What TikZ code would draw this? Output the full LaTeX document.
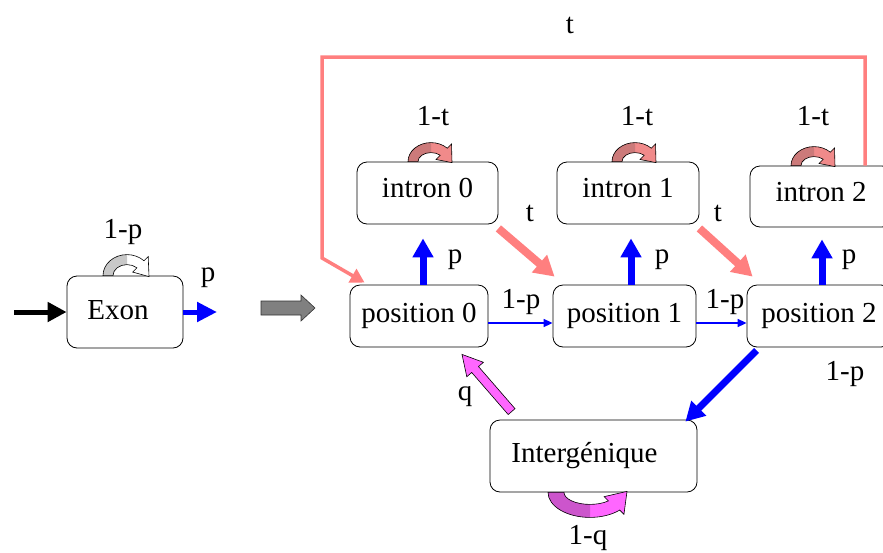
\documentclass[tikz,border=0pt]{standalone}
\usepackage{fontspec}
\setmainfont{Liberation Serif}
\usetikzlibrary{arrows.meta,calc}
\definecolor{pinkline}{HTML}{FF7F7F}
\definecolor{bblue}{HTML}{0000FF}
\definecolor{magA}{HTML}{FF66FF}
\definecolor{magB}{HTML}{CC55CC}
\definecolor{roseA}{HTML}{F08A8A}
\definecolor{roseB}{HTML}{CC7A7A}
\definecolor{grayA}{HTML}{808080}
\definecolor{grayL}{HTML}{C8C8C8}

\newcommand\loopshape[6]{%
  \pgfmathsetmacro\lea{315}%
  \pgfmathsetmacro\lox{cos(\lea)*(#1+6)}%
  \pgfmathsetmacro\loy{sin(\lea)*(#2+6)}%
  \pgfmathsetmacro\lix{cos(\lea)*(#3-6)}%
  \pgfmathsetmacro\liy{sin(\lea)*(#4-6)}%
  \pgfmathsetmacro\ljx{cos(\lea)*#3}%
  \pgfmathsetmacro\ljy{sin(\lea)*#4}%
  \pgfmathsetmacro\ltx{(#1+#3)/2+3}%
  \def\lpth{(-#1,0) arc[start angle=180,end angle=\lea,x radius=#1,y radius=#2] -- (\lox,\loy) -- (\ltx,1) -- (\lix,\liy) -- (\ljx,\ljy) arc[start angle=\lea,end angle=180,x radius=#3,y radius=#4] -- cycle}%
  \fill[#6] \lpth;
  \begin{scope}\clip (-100,-100) rectangle (0,100); \fill[#5] \lpth; \end{scope}
  \draw[line width=0.6pt] \lpth;
}

\begin{document}
\begin{tikzpicture}[x=1pt,y=-1pt,
  font=\fontsize{29pt}{32pt}\selectfont,
  box/.style={draw, rounded corners=10pt, line width=0.8pt, fill=white, inner sep=0pt},
  lbl/.style={inner sep=0pt},
  bluethick/.style={draw=bblue, line width=7pt, -{Triangle[length=19pt,width=20pt]}},
  bluethin/.style={draw=bblue, line width=1.6pt, -{Triangle[length=9pt,width=8pt]}},
  pinkthick/.style={draw=pinkline, line width=8pt, -{Triangle[length=20pt,width=22pt]}},
  blackarr/.style={draw=black, line width=5pt, -{Triangle[length=19pt,width=19pt]}}]
\useasboundingbox (0,0) rectangle (883,552);
\clip (0,0) rectangle (883,552);

% boxes
\node[box, minimum width=116pt, minimum height=72pt, text depth=5pt] (exon) at (125,312) {Exon\hspace*{14pt}};
\node[box, minimum width=138pt, minimum height=62pt] (p0) at (419,316) {position 0};
\node[box, minimum width=143pt, minimum height=62pt] (p1) at (624.5,316) {position 1};
\node[box, minimum width=144pt, minimum height=62pt] (p2) at (819,316) {position 2};
\node[box, minimum width=141pt, minimum height=62pt, text depth=10pt] (i0) at (427.5,193) {intron 0};
\node[box, minimum width=142pt, minimum height=62pt, text depth=10pt] (i1) at (628,193) {intron 1};
\node[box, minimum width=142pt, minimum height=61pt, text depth=10pt] (i2) at (821,196.5) {intron 2};
\node[box, minimum width=207pt, minimum height=72pt] (ig) at (593.5,456) {Intergénique\hspace*{18pt}};

% coordinates for free ends
\coordinate (inA) at (14,312);
\coordinate (outE) at (217,312);
\coordinate (tA) at (865,57);
\coordinate (tB) at (322,57);
\coordinate (tC) at (322,258);
\coordinate (gT) at (261,308);
\coordinate (gH) at (315,308);

% exon arrows
\draw[blackarr] (inA) -- (exon.west);
\draw[draw=bblue, line width=5pt, -{Triangle[length=20pt,width=19pt]}] (exon.east) -- (outE);

% gray block arrow
\filldraw[fill=grayA, draw=black!80, line width=0.6pt]
  ($(gT)+(0,-7)$) -- ($(gH)+(-14,-7)$) -- ($(gH)+(-14,-13)$) -- (gH) -- ($(gH)+(-14,13)$) -- ($(gH)+(-14,7)$) -- ($(gT)+(0,7)$) -- cycle;

% big pink return line
\draw[draw=pinkline, line width=3.5pt, line join=miter, -{Triangle[length=14pt,width=15pt]}]
  (i2.north -| tA) -- (tA) -- (tB) -- (tC) -- ([xshift=15pt,yshift=2pt]p0.north west);

% blue up arrows
\draw[bluethick, shorten >=14pt] ([xshift=4pt]p0.north) -- ([xshift=4pt]p0.north |- i0.south);
\draw[bluethick, shorten >=14pt] ([xshift=6.5pt]p1.north) -- ([xshift=6.5pt]p1.north |- i1.south);
\draw[bluethick, shorten >=12pt] ([xshift=3pt]p2.north) -- ([xshift=3pt]p2.north |- i2.south);

% thin blue arrows
\draw[bluethin] ([yshift=-7pt]p0.east) -- ([yshift=-7pt]p1.west);
\draw[bluethin] ([yshift=-7pt]p1.east) -- ([yshift=-7pt]p2.west);

% pink t arrows
\draw[pinkthick] ([yshift=-4pt]i0.south east) -- ([xshift=2pt,yshift=8pt]p1.north west);
\draw[pinkthick] ([yshift=-4pt]i1.south east) -- ([xshift=6pt,yshift=8pt]p2.north west);

% blue diagonal to intergenique
\draw[bluethick] ([xshift=10pt,yshift=-3pt]p2.south west) -- ([xshift=-12pt,yshift=-2pt]ig.north east);

% magenta block arrow
\coordinate (mT) at ([xshift=22pt,yshift=8pt]ig.north west);
\coordinate (mH) at ([xshift=43pt,yshift=-7pt]p0.south);
\coordinate (mB) at ($(mH)!20pt!(mT)$);
\filldraw[fill=magA, draw=black, line width=0.6pt]
  ($(mT)!4.5pt!90:(mH)$) -- ($(mB)!4.5pt!90:(mH)$) -- ($(mB)!11pt!90:(mH)$) -- (mH)
  -- ($(mB)!11pt!-90:(mH)$) -- ($(mB)!4.5pt!-90:(mH)$) -- ($(mT)!4.5pt!-90:(mH)$) -- cycle;

% self loops
\begin{scope}[shift={($(exon.north)+(2,0)$)}]\loopshape{24}{21}{14}{11}{grayL}{white}\end{scope}
\begin{scope}[shift={($(i0.north)+(3.5,0)$)}]\loopshape{23}{19}{13}{9}{roseB}{roseA}\end{scope}
\begin{scope}[shift={($(i1.north)+(7,0)$)}]\loopshape{23}{19}{13}{9}{roseB}{roseA}\end{scope}
\begin{scope}[shift={($(i2.north)+(-7,0)$)}]\loopshape{23}{19}{13}{9}{roseB}{roseA}\end{scope}
\begin{scope}[shift={($(ig.south)+(-3.5,0)$)}, yscale=-1]\loopshape{42}{25}{26}{12}{magB}{magA}\end{scope}

% labels
\node[lbl] (lex) at (123,232) {1-p};
\node[lbl] (lexp) at (208,278) {p};
\node[lbl] (ltop) at (570,25) {t};
\node[lbl] (lt0) at (433,116) {1-t};
\node[lbl] (lt1) at (637,116) {1-t};
\node[lbl] (lt2) at (813,116) {1-t};
\node[lbl] (ltt0) at (530,213) {t};
\node[lbl] (ltt1) at (718,213) {t};
\node[lbl] (lp0) at (455,260) {p};
\node[lbl] (lp1) at (662,260) {p};
\node[lbl] (lp2) at (849,260) {p};
\node[lbl] (lq0) at (521,302) {1-p};
\node[lbl] (lq1) at (725,302) {1-p};
\node[lbl] (lq2) at (845,374) {1-p};
\node[lbl] (lqq) at (465,397) {q};
\node[lbl] (l1q) at (588,538) {1-q};
\end{tikzpicture}
\end{document}
